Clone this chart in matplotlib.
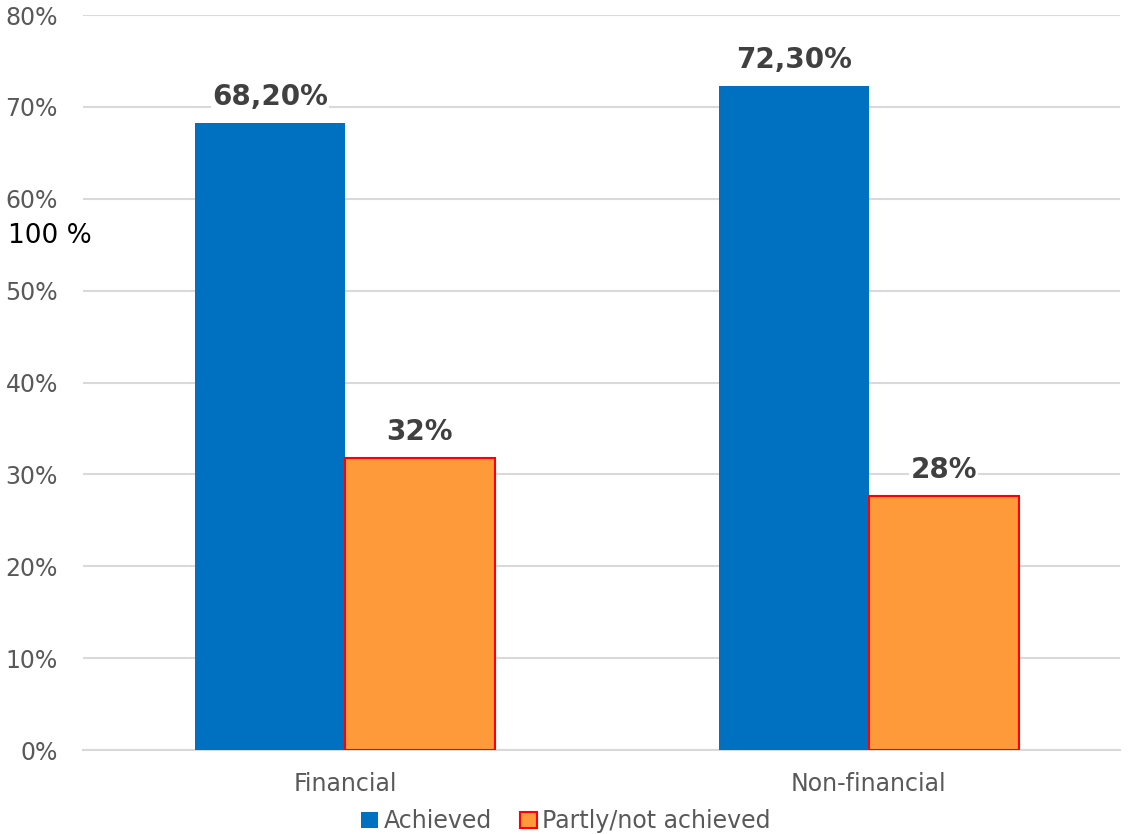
import numpy as np
import matplotlib.pyplot as plt

categories = ['Financial', 'Non-financial']
achieved = [68.2, 72.3]
partly = [31.8, 27.7]
achieved_labels = ['68,20%', '72,30%']
partly_labels = ['32%', '28%']
yticks = [0, 10, 20, 30, 40, 50, 60, 70, 80]

blue = '#0070c0'
orange = '#ff9a3a'
grey = '#595959'

fig = plt.figure(figsize=(11.32, 8.34), dpi=100)
ax = fig.add_axes([0.0733, 0.1007, 0.916, 0.8813])

x = np.arange(len(categories))
w = 0.286
b1 = ax.bar(x - w / 2, achieved, w, color=blue, label='Achieved', zorder=3)
b2 = ax.bar(x + w / 2, partly, w, color=orange, edgecolor='red', linewidth=1.5,
            label='Partly/not achieved', zorder=3)

# data labels with white background to break the gridlines
lab_style = dict(ha='center', va='bottom', fontsize=20, fontweight='bold', color='#404040',
                 bbox=dict(facecolor='white', edgecolor='none', pad=1), zorder=4)
for xi, v, t in zip(x - w / 2, achieved, achieved_labels):
    ax.text(xi, v + 1.3, t, **lab_style)
for xi, v, t in zip(x + w / 2, partly, partly_labels):
    ax.text(xi, v + 1.3, t, **lab_style)

ax.set_xlim(-0.5, 1.479)
ax.set_ylim(0, 80)
ax.set_yticks(yticks)
ax.set_yticklabels([f'{t}%' for t in yticks])
ax.set_xticks(x)
ax.set_xticklabels(categories)
ax.tick_params(axis='both', length=0, labelsize=17, labelcolor=grey)
ax.tick_params(axis='y', pad=18)
ax.tick_params(axis='x', pad=16)
ax.grid(axis='y', color='#d9d9d9', linewidth=1.5, zorder=0)
for s in ['top', 'right', 'left']:
    ax.spines[s].set_visible(False)
ax.spines['bottom'].set_color('#d9d9d9')
ax.spines['bottom'].set_linewidth(1.5)

fig.text(8 / 1132, 1 - 236 / 834, '100 %', fontsize=19, color='black', va='center', ha='left')

leg = fig.legend(handles=[b1, b2], loc='center', bbox_to_anchor=(0.50, 0.015), ncol=2,
                 frameon=False, fontsize=17, handlelength=0.7, handleheight=0.7,
                 handletextpad=0.25, columnspacing=1.2)
for t in leg.get_texts():
    t.set_color(grey)

fig.savefig('out.png', dpi=100)
